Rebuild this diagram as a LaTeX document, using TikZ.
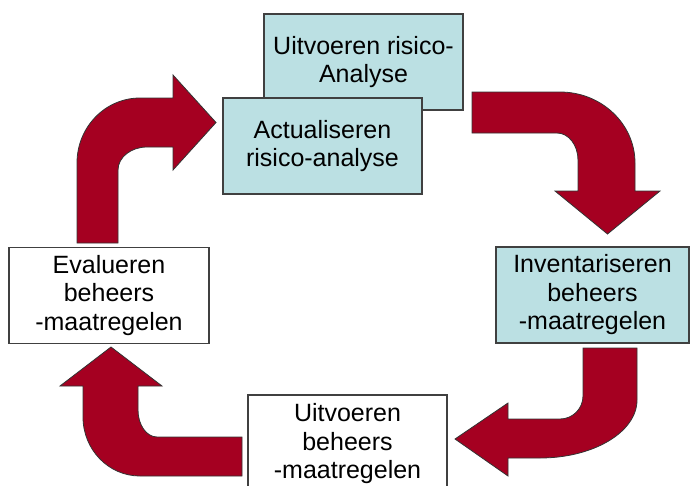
\documentclass[tikz,border=0pt]{standalone}
\usepackage{fontspec}
\setmainfont{Liberation Sans}
\usetikzlibrary{positioning}
\definecolor{pijlrood}{RGB}{165,0,33}
\definecolor{lichtblauw}{RGB}{187,224,227}
\tikzset{stap/.style =
   {rectangle,
    draw=black!75,
    line width=1.2pt,
    align=center,
    inner sep=2pt,
    font=\fontsize{25}{28.5}\selectfont,
    minimum width=199pt,
    minimum height=96pt}}
\tikzset{blauw/.style = {stap, fill=lichtblauw}}
\tikzset{wit/.style = {stap, fill=white}}
\tikzset{blokpijl/.style = {fill=pijlrood, draw=black!80, line width=0.8pt, line join=miter}}
\begin{document}
\begin{tikzpicture}[x=1pt, y=-1pt]
    \useasboundingbox (0,0) rectangle (690,485);

    % vakken
    \node [blauw] (uitvoerenrisico) at (363.5,62)
    {Uitvoeren risico-\\Analyse};
    \node [blauw] (actualiseren) at (322.5,146)
    {Actualiseren\\risico-analyse};
    \node [blauw,
           minimum width=193pt] (inventariseren) at (592.5,295)
    {Inventariseren\\beheers\\-maatregelen};
    \node [wit,
           minimum height=98pt] (uitvoerenbeheers) at (347.5,444)
    {Uitvoeren\\beheers\\-maatregelen};
    \node [wit,
           minimum width=200pt] (evalueren) at (109,295.5)
    {Evalueren\\beheers\\-maatregelen};

    % pijl van evalueren naar actualiseren
    \draw [blokpijl] (77,243) -- (77,163)
        .. controls (77,127.1) and (105.2,98) .. (140,98)
        -- (173,98) -- (173,75) -- (216,122.5) -- (173,170) -- (173,147)
        -- (147,147) .. controls (131,147) and (118,157.3) .. (118,170)
        -- (118,243) -- cycle;

    % pijl van uitvoeren risico-analyse naar inventariseren
    \draw [blokpijl] (472,92) -- (560,92)
        .. controls (601.4,92) and (635,123.8) .. (635,163)
        -- (635,191) -- (660,191) -- (607.5,234) -- (555,191) -- (578,191)
        -- (578,160) .. controls (578,145.1) and (568.6,133) .. (557,133)
        -- (472,133) -- cycle;

    % pijl van inventariseren naar uitvoeren beheers-maatregelen
    \draw [blokpijl] (583,348) -- (637,348) -- (637,400)
        .. controls (637,432) and (593.5,458) .. (540,458)
        -- (508,458) -- (508,476) -- (455,439) -- (508,403) -- (508,419)
        -- (560,419) .. controls (572.7,419) and (583,408.7) .. (583,396)
        -- cycle;

    % pijl van uitvoeren beheers-maatregelen naar evalueren
    \draw [blokpijl] (242,437) -- (157,437)
        .. controls (146.5,437) and (138,424.9) .. (138,410)
        -- (138,386) -- (162,386) -- (111,347) -- (60,386) -- (83,386)
        -- (83,417) .. controls (83,449.6) and (108.5,476) .. (140,476)
        -- (242,476) -- cycle;

\end{tikzpicture}
\end{document}
